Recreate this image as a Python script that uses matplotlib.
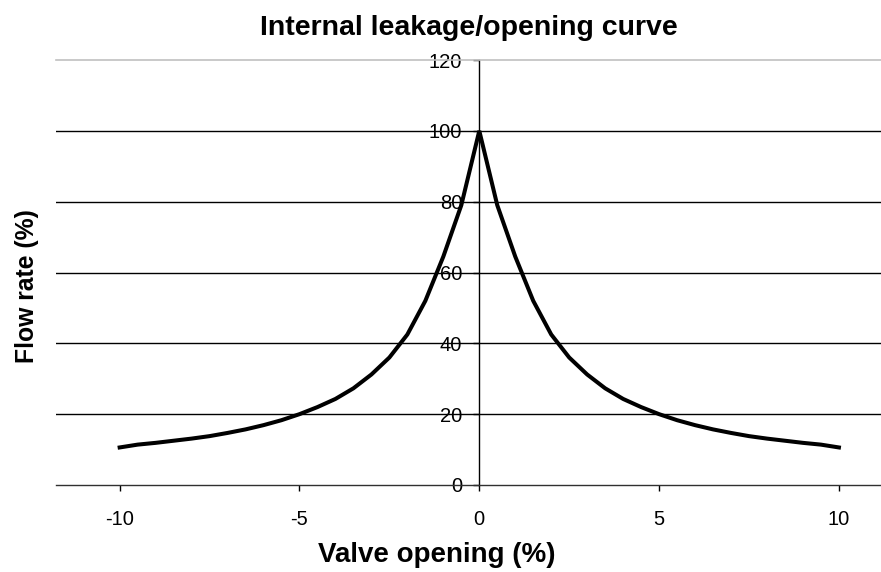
import matplotlib.pyplot as plt

plt.rcParams['font.family'] = ['Liberation Sans', 'DejaVu Sans']
plt.rcParams['axes.unicode_minus'] = False

# valve opening (%) and flow rate (%)
opening = [-10, -9.5, -9, -8.5, -8, -7.5, -7, -6.5, -6, -5.5, -5, -4.5, -4, -3.5, -3, -2.5, -2, -1.5, -1, -0.5,
           0, 0.5, 1, 1.5, 2, 2.5, 3, 3.5, 4, 4.5, 5, 5.5, 6, 6.5, 7, 7.5, 8, 8.5, 9, 9.5, 10]
flow = [10.6, 11.4, 11.9, 12.5, 13.1, 13.8, 14.7, 15.7, 16.9, 18.3, 20, 22, 24.3, 27.3, 31.2, 36, 42.5, 52, 64.5, 79,
        100, 79, 64.5, 52, 42.5, 36, 31.2, 27.3, 24.3, 22, 20, 18.3, 16.9, 15.7, 14.7, 13.8, 13.1, 12.5, 11.9, 11.4, 10.6]
x_ticks = [-10, -5, 0, 5, 10]
y_ticks = [0, 20, 40, 60, 80, 100, 120]

W, H = 881, 572
fig = plt.figure(figsize=(W / 100, H / 100), dpi=100)
ax = fig.add_axes([56 / W, 87 / H, 825 / W, 425 / H])

# horizontal gridlines
for yv in y_ticks[1:-1]:
    ax.axhline(yv, color='black', lw=1.0, zorder=1)

ax.plot(opening, flow, color='black', lw=2.9, zorder=3, solid_joinstyle='miter')

ax.set_xlim(-11.77, 11.17)
ax.set_ylim(0, 120)
ax.set_xticks(x_ticks)
ax.set_yticks(y_ticks)

ax.spines['left'].set_position(('data', 0))
ax.spines['left'].set_linewidth(1.0)
ax.spines['right'].set_visible(False)
ax.spines['top'].set_color('#c0c0c0')
ax.spines['top'].set_linewidth(1.2)
ax.spines['bottom'].set_color('#303030')
ax.spines['bottom'].set_linewidth(1.0)

ax.tick_params(axis='x', direction='out', length=4.3, width=1, pad=13.5, labelsize=14.5)
ax.tick_params(axis='y', direction='out', length=4.3, width=1, pad=8, labelsize=14.5)

fig.text(468.5 / W, 1 - 35 / H, 'Internal leakage/opening curve', ha='center', va='baseline',
         fontsize=20.5, fontweight='bold')
fig.text(437 / W, 1 - 562 / H, 'Valve opening (%)', ha='center', va='baseline',
         fontsize=20, fontweight='bold')
fig.text(27 / W, 1 - 286 / H, 'Flow rate (%)', ha='center', va='center', rotation=90,
         fontsize=17.8, fontweight='bold')

fig.savefig('out.png', dpi=100)
